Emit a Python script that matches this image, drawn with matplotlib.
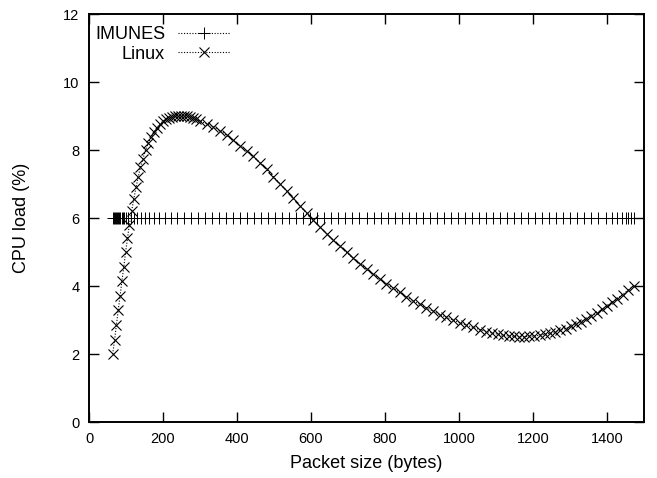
import matplotlib
matplotlib.use("Agg")
import matplotlib.pyplot as plt

plt.rcParams['font.family'] = ['Liberation Sans', 'DejaVu Sans']

# IMUNES series (constant CPU load)
imunes_x = [64, 67, 70, 73, 76, 79, 82, 85, 88, 91, 95, 100, 106, 113, 121, 130,
            140, 151, 163, 176, 190, 205, 221, 238, 256,
            275, 294, 313, 332, 351, 370, 389, 408, 427, 446, 465, 484, 503, 522,
            541, 560, 579, 598, 617, 636, 655, 674, 693, 712, 731, 750, 769, 788,
            807, 826, 845, 864, 883, 902, 921, 940, 959, 978, 997, 1016, 1035,
            1054, 1073, 1092, 1111, 1130, 1149, 1168, 1187, 1206, 1225, 1244,
            1263, 1282, 1301, 1320, 1339, 1358, 1377, 1396, 1413, 1428, 1440,
            1450, 1458, 1465, 1472]
imunes_y = [6.0, 6.0, 6.0, 6.0, 6.0, 6.0, 6.0, 6.0, 6.0, 6.0, 6.0, 6.0, 6.0, 6.0,
            6.0, 6.0, 6.0, 6.0, 6.0, 6.0, 6.0, 6.0, 6.0, 6.0, 6.0, 6.0, 6.0, 6.0,
            6.0, 6.0, 6.0, 6.0, 6.0, 6.0, 6.0, 6.0, 6.0, 6.0, 6.0, 6.0, 6.0, 6.0,
            6.0, 6.0, 6.0, 6.0, 6.0, 6.0, 6.0, 6.0, 6.0, 6.0, 6.0, 6.0, 6.0, 6.0,
            6.0, 6.0, 6.0, 6.0, 6.0, 6.0, 6.0, 6.0, 6.0, 6.0, 6.0, 6.0, 6.0, 6.0,
            6.0, 6.0, 6.0, 6.0, 6.0, 6.0, 6.0, 6.0, 6.0, 6.0, 6.0, 6.0, 6.0, 6.0,
            6.0, 6.0, 6.0, 6.0, 6.0, 6.0, 6.0, 6.0]

# Linux series
linux_x = [64, 69, 74, 79, 84, 89, 94, 99, 104, 109, 115, 121, 127, 133, 139, 146,
           153, 160, 168, 176, 184, 192, 200, 208, 216, 224, 232, 240, 248, 256,
           264, 272, 281, 290, 300, 318, 336, 354, 372, 390, 408, 426, 444, 462,
           480, 498, 516, 534, 552, 570, 588, 606, 624, 642, 660, 678, 696, 714,
           732, 750, 768, 786, 804, 822, 840, 858, 876, 894, 912, 930, 948, 966,
           984, 1002, 1020, 1038, 1056, 1074, 1090, 1106, 1120, 1134, 1148, 1162,
           1176, 1190, 1204, 1218, 1232, 1246, 1260, 1274, 1288, 1302, 1316, 1330,
           1344, 1358, 1372, 1386, 1400, 1414, 1428, 1442, 1456, 1472]
linux_y = [2.0, 2.4, 2.85, 3.3, 3.7, 4.15, 4.55, 5.0, 5.4, 5.8, 6.2, 6.55, 6.9, 7.2,
           7.5, 7.75, 8.0, 8.2, 8.38, 8.53, 8.66, 8.77, 8.85, 8.91, 8.95, 8.98,
           9.0, 9.0, 9.0, 9.0, 8.99, 8.97, 8.94, 8.9, 8.85, 8.77, 8.68, 8.57, 8.44,
           8.29, 8.13, 7.97, 7.81, 7.63, 7.43, 7.22, 7.01, 6.79, 6.58, 6.36, 6.14,
           5.93, 5.73, 5.53, 5.35, 5.17, 4.99, 4.82, 4.66, 4.50, 4.35, 4.21, 4.07,
           3.94, 3.81, 3.69, 3.57, 3.46, 3.36, 3.26, 3.16, 3.08, 3.0, 2.92, 2.85,
           2.78, 2.72, 2.66, 2.62, 2.58, 2.55, 2.53, 2.52, 2.51, 2.51, 2.52, 2.53,
           2.55, 2.58, 2.61, 2.65, 2.70, 2.75, 2.81, 2.88, 2.95, 3.03, 3.12, 3.21,
           3.31, 3.41, 3.52, 3.63, 3.75, 3.87, 4.00]

x_ticks = [0, 200, 400, 600, 800, 1000, 1200, 1400]
y_ticks = [0, 2, 4, 6, 8, 10, 12]

fig = plt.figure(figsize=(6.57, 4.78), dpi=100)
ax = fig.add_axes([89 / 657, 56 / 478, 555 / 657, 408 / 478])

dot = (0, (1, 1.5))
ax.plot(imunes_x, imunes_y, linestyle=dot, color='black', linewidth=0.8,
        marker='+', markersize=8, markeredgewidth=0.7, label='IMUNES')
ax.plot(linux_x, linux_y, linestyle=dot, color='black', linewidth=0.8,
        marker='x', markersize=6.5, markeredgewidth=0.8, label='Linux')

ax.set_xlim(0, 1500)
ax.set_ylim(0, 12)
ax.set_xticks(x_ticks)
ax.set_yticks(y_ticks)
ax.tick_params(direction='in', length=7, width=1.0, top=True, right=True,
               labelsize=10.5, pad=7, colors='black')
for s in ax.spines.values():
    s.set_linewidth(1.4)

ax.set_xlabel('Packet size (bytes)', fontsize=13, labelpad=7)
ax.set_ylabel('CPU load (%)', fontsize=13, labelpad=24)

leg = ax.legend(loc='upper left', bbox_to_anchor=(6 / 555, 1 - 12 / 408),
                frameon=False, markerfirst=False,
                alignment='right', fontsize=13, handlelength=2.9,
                handletextpad=0.7, borderaxespad=0.0, labelspacing=0.15,
                borderpad=0.0)

fig.savefig('out.png', dpi=100)
